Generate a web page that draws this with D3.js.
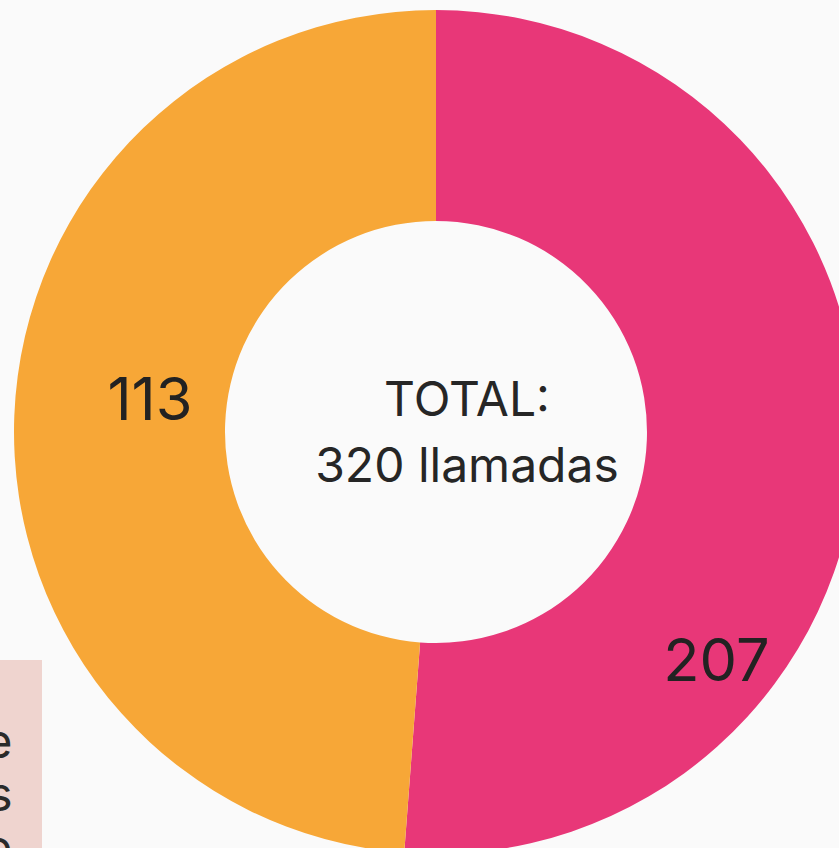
<!DOCTYPE html>
<html>
<head>
<meta charset="utf-8">
<script src="https://cdn.jsdelivr.net/npm/d3@7"></script>
<style>
  html, body { margin: 0; padding: 0; background: #fafafa; overflow: hidden; }
  svg { display: block; }
</style>
</head>
<body>
<svg id="chart" width="839" height="848"></svg>
<script>
// ---- data ----
const categories = ["Categoría A", "Categoría B"];
const callCounts = [207, 113];              // labels shown on the slices
const sliceShares = [51.2, 48.8];           // visible angular share of each slice (%)
const sliceColors = ["#e83778", "#f7a737"];
const totalLines = ["TOTAL:", d3.sum(callCounts) + " llamadas"];
const noteLines = ["Llamadas recibidas en la línea de", "atención durante los", "meses del periodo"];
const labelPlacement = [ {t: 0.70, r: 361}, {t: 0.526, r: 288} ]; // position along slice / radius

// ---- layout ----
const svg = d3.select("#chart");
const cx = 436, cy = 432, outerR = 422, innerR = 211;
const font = "Inter, 'Noto Sans', sans-serif";

// note box (partially visible)
const note = svg.append("g");
note.append("rect").attr("x", -400).attr("y", 660).attr("width", 442).attr("height", 300)
  .attr("fill", "#efd4cf");
note.selectAll("text").data(noteLines).join("text")
  .attr("x", 12.5).attr("y", (d, i) => 758 + i * 53)
  .attr("text-anchor", "end")
  .attr("font-family", font).attr("font-size", 47)
  .attr("fill", "#2a2a2a").text(d => d);

const g = svg.append("g").attr("transform", `translate(${cx},${cy})`);

const pie = d3.pie().sort(null).value(d => d.share);
const data = categories.map((c, i) => ({cat: c, count: callCounts[i], share: sliceShares[i], color: sliceColors[i], lp: labelPlacement[i]}));
const arcs = pie(data);
const arc = d3.arc().innerRadius(innerR).outerRadius(outerR);

g.selectAll("path").data(arcs).join("path")
  .attr("d", arc).attr("fill", d => d.data.color);

g.selectAll("text.val").data(arcs).join("text")
  .attr("class", "val")
  .attr("transform", d => {
    const a = d.startAngle + (d.endAngle - d.startAngle) * d.data.lp.t;
    return `translate(${d.data.lp.r * Math.sin(a)},${-d.data.lp.r * Math.cos(a)})`;
  })
  .attr("text-anchor", "middle").attr("dy", "0.36em")
  .attr("font-family", font).attr("font-size", 59.5)
  .attr("fill", "#222").text(d => d.data.count);

g.selectAll("text.tot").data(totalLines).join("text")
  .attr("class", "tot")
  .attr("x", 31).attr("y", (d, i) => -16 + i * 66)
  .attr("text-anchor", "middle")
  .attr("font-family", font).attr("font-size", 48)
  .attr("fill", "#262626").text(d => d);
</script>
</body>
</html>
